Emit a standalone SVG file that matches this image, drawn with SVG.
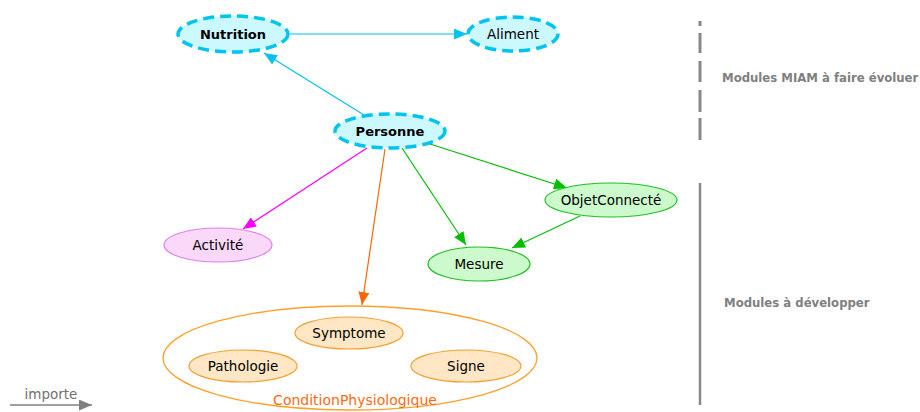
<svg xmlns="http://www.w3.org/2000/svg" width="920" height="412" viewBox="0 0 920 412">
<style>
text{font-family:"DejaVu Sans","Liberation Sans",sans-serif;font-size:13.5px;fill:#000;text-anchor:middle}
.miam{fill:#ccf8ff;stroke:#00c4f0;stroke-width:3.5;stroke-dasharray:11,6}
.bold{font-weight:bold;font-size:13px}
.act{fill:#fad8fa;stroke:#e080ea;stroke-width:1.2}
.grn{fill:#ccfacc;stroke:#22c022;stroke-width:1.2}
.org{fill:#ffe6c4;stroke:#f4a030;stroke-width:1.2}
.cond{fill:none;stroke:#ffa028;stroke-width:1.3}
.side{font-weight:bold;fill:#808080;font-size:11.7px;text-anchor:start}
.e{fill:none;stroke-width:1.2}
</style>
<defs>
<marker id="aCyan" viewBox="0 0 13 11" refX="13" refY="5.5" markerWidth="13" markerHeight="11" markerUnits="userSpaceOnUse" orient="auto"><path d="M0,0L13,5.5L0,11z" fill="#00c4f0"/></marker>
<marker id="aMag" viewBox="0 0 13 11" refX="13" refY="5.5" markerWidth="13" markerHeight="11" markerUnits="userSpaceOnUse" orient="auto"><path d="M0,0L13,5.5L0,11z" fill="#ff00ff"/></marker>
<marker id="aOrg" viewBox="0 0 13 11" refX="13" refY="5.5" markerWidth="13" markerHeight="11" markerUnits="userSpaceOnUse" orient="auto"><path d="M0,0L13,5.5L0,11z" fill="#ff6600"/></marker>
<marker id="aGrn" viewBox="0 0 13 11" refX="13" refY="5.5" markerWidth="13" markerHeight="11" markerUnits="userSpaceOnUse" orient="auto"><path d="M0,0L13,5.5L0,11z" fill="#00c000"/></marker>
<marker id="aGray" viewBox="0 0 13 11" refX="13" refY="5.5" markerWidth="13" markerHeight="11" markerUnits="userSpaceOnUse" orient="auto"><path d="M0,0L13,5.5L0,11z" fill="#808080"/></marker>
</defs>

<g id="connectors">
<line class="e" x1="290" y1="34" x2="467" y2="34" stroke="#00c4f0" marker-end="url(#aCyan)"/>
<line class="e" x1="364" y1="115" x2="264" y2="53" stroke="#00c4f0" marker-end="url(#aCyan)"/>
<line class="e" x1="367" y1="148" x2="243" y2="229" stroke="#ff00ff" marker-end="url(#aMag)"/>
<line class="e" x1="385" y1="149" x2="362" y2="305" stroke="#ff6600" marker-end="url(#aOrg)"/>
<line class="e" x1="402" y1="148" x2="466" y2="245" stroke="#00c000" marker-end="url(#aGrn)"/>
<line class="e" x1="430" y1="144" x2="567" y2="188" stroke="#00c000" marker-end="url(#aGrn)"/>
<line class="e" x1="580" y1="216" x2="512" y2="248" stroke="#00c000" marker-end="url(#aGrn)"/>
</g>

<g id="Nutrition"><ellipse class="miam" cx="233" cy="34" rx="55" ry="18"/><text class="bold" x="233" y="39">Nutrition</text></g>
<g id="Aliment"><ellipse class="miam" cx="513" cy="34" rx="45" ry="17"/><text x="513" y="39">Aliment</text></g>
<g id="Personne"><ellipse class="miam" cx="390" cy="131" rx="55" ry="17"/><text class="bold" x="390" y="136">Personne</text></g>
<g id="Activite"><ellipse class="act" cx="218" cy="245" rx="54" ry="17"/><text x="218" y="250">Activité</text></g>
<g id="Mesure"><ellipse class="grn" cx="479" cy="264" rx="51" ry="17"/><text x="479" y="269">Mesure</text></g>
<g id="ObjetConnecte"><ellipse class="grn" cx="611" cy="200" rx="66" ry="17"/><text x="611" y="205">ObjetConnecté</text></g>

<g id="ConditionPhysiologique">
<ellipse class="cond" cx="350" cy="358" rx="187" ry="52"/>
<text x="355" y="405" style="fill:#ff6a10;font-size:14px">ConditionPhysiologique</text>
</g>
<g id="Symptome"><ellipse class="org" cx="349" cy="333" rx="54" ry="16"/><text x="349" y="338">Symptome</text></g>
<g id="Pathologie"><ellipse class="org" cx="243" cy="366" rx="54" ry="16"/><text x="243" y="371">Pathologie</text></g>
<g id="Signe"><ellipse class="org" cx="466" cy="366" rx="55" ry="16"/><text x="466" y="371">Signe</text></g>

<g id="legend-miam">
<line x1="700" y1="21" x2="700" y2="140" stroke="#888" stroke-width="3" stroke-dasharray="5,7,20,8,21,8,22,6,22,100"/>
<text class="side" x="722" y="82">Modules MIAM à faire évoluer</text>
</g>
<g id="legend-dev">
<line x1="700" y1="183" x2="700" y2="405" stroke="#888" stroke-width="2.5"/>
<text class="side" x="724" y="307">Modules à développer</text>
</g>
<g id="legend-importe">
<line x1="10" y1="405" x2="92" y2="405" stroke="#808080" stroke-width="1.3" marker-end="url(#aGray)"/>
<text x="51" y="399" style="fill:#707070">importe</text>
</g>
</svg>
